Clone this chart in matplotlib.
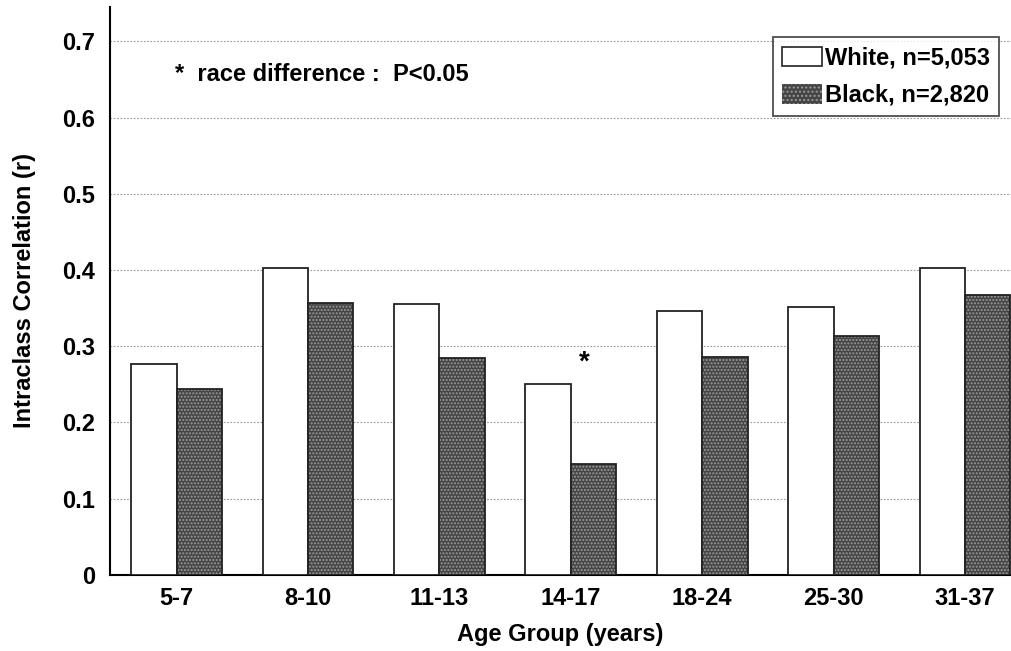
import matplotlib
matplotlib.use("Agg")
import matplotlib.pyplot as plt
from matplotlib.patches import Patch
import numpy as np

categories = ["5-7", "8-10", "11-13", "14-17", "18-24", "25-30", "31-37"]
white = [0.277, 0.403, 0.356, 0.250, 0.346, 0.351, 0.403]
black = [0.244, 0.357, 0.285, 0.146, 0.286, 0.313, 0.367]
yticks = [0, 0.1, 0.2, 0.3, 0.4, 0.5, 0.6, 0.7]
ytick_labels = ["0", "0.1", "0.2", "0.3", "0.4", "0.5", "0.6", "0.7"]
sig_index = 3

plt.rcParams['font.family'] = ['Liberation Sans', 'DejaVu Sans']
plt.rcParams['font.weight'] = 'bold'

FS = 17

fig = plt.figure(figsize=(10.11, 6.51), dpi=100)
ax = fig.add_axes([0.109, 0.117, 0.891, 0.872])

x = np.arange(len(categories))
w = 0.345
ax.bar(x - w/2, white, w, color='white', edgecolor='#222222', linewidth=1.3, zorder=3)
ax.bar(x + w/2, black, w, color='#454545', edgecolor='#9a9a9a', hatch='.....',
       linewidth=0, zorder=3)
ax.bar(x + w/2, black, w, fill=False, edgecolor='#222222', linewidth=1.3, zorder=4)

h1 = Patch(facecolor='white', edgecolor='#222222', linewidth=1.2, label='White, n=5,053')
h2 = Patch(facecolor='#454545', edgecolor='#9a9a9a', hatch='....', linewidth=0,
           label='Black, n=2,820')

ax.set_xlim(-0.505, 6.35)
ax.set_ylim(0, 0.745)
ax.set_xticks(x)
ax.set_xticklabels(categories, fontsize=FS, fontweight='bold')
ax.set_yticks(yticks)
ax.set_yticklabels(ytick_labels, fontsize=FS, fontweight='bold')
ax.tick_params(axis='x', length=0, pad=9)
ax.tick_params(axis='y', length=0, pad=11)
for s in ['top', 'right']:
    ax.spines[s].set_visible(False)
ax.spines['left'].set_linewidth(1.5)
ax.spines['bottom'].set_linewidth(1.5)
ax.yaxis.grid(True, linestyle=(0, (1.5, 1.5)), color='#999999', linewidth=0.8, zorder=0)
ax.set_axisbelow(True)

ax.set_ylabel('Intraclass Correlation (r)', fontsize=FS, fontweight='bold', labelpad=19)
ax.set_xlabel('Age Group (years)', fontsize=FS, fontweight='bold', labelpad=9)

ax.text(-0.01, 0.657, '*  race difference :  P<0.05', fontsize=FS, fontweight='bold',
        ha='left', va='center')
ax.text(x[sig_index] + 0.1, 0.279, '*', fontsize=20, fontweight='bold',
        ha='center', va='center')

leg = ax.legend(handles=[h1, h2], loc='upper right', bbox_to_anchor=(0.987, 0.947),
                fontsize=FS, frameon=True, fancybox=False, edgecolor='#222222',
                handlelength=1.7, handleheight=0.9, handletextpad=0.1,
                borderpad=0.4, labelspacing=0.6, borderaxespad=0)
leg.get_frame().set_linewidth(1.3)
for t in leg.get_texts():
    t.set_fontweight('bold')

fig.savefig('out.png', dpi=100)
